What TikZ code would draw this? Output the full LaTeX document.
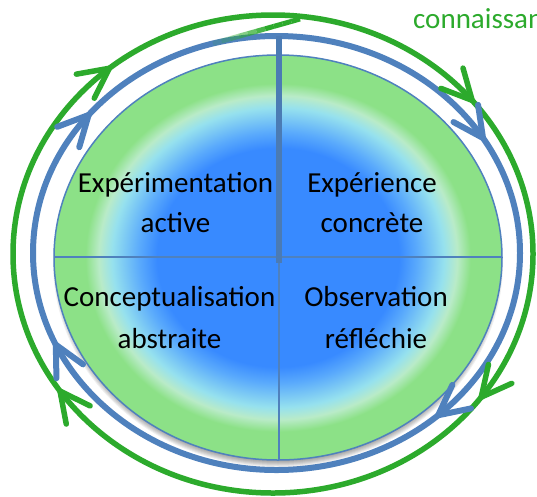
\documentclass[tikz,border=0pt]{standalone}
\usepackage{fontspec}
\setmainfont{Carlito}
\usetikzlibrary{calc}
\definecolor{ringblue}{RGB}{79,129,189}
\definecolor{ringgreen}{RGB}{44,170,44}
\definecolor{cblue}{RGB}{56,138,255}
\definecolor{cblue2}{RGB}{90,170,252}
\definecolor{ccyan}{RGB}{150,225,238}
\definecolor{cpale}{RGB}{185,235,200}
\definecolor{cgreen}{RGB}{140,225,135}
\pgfdeclareradialshading{kolbshade}{\pgfpoint{0bp}{0bp}}{color(0bp)=(cblue); color(13.5bp)=(cblue); color(15.5bp)=(cblue2); color(18.5bp)=(ccyan); color(20bp)=(cpale); color(21.5bp)=(cgreen); color(25bp)=(cgreen); color(50bp)=(cgreen)}
% chevron arrowhead on an ellipse: cx, cy, rx, ry, angle, style
\newcommand\kolbchevron[6]{%
  \pgfmathsetmacro\kcTx{#1+#3*cos(#5)}%
  \pgfmathsetmacro\kcTy{#2+#4*sin(#5)}%
  \pgfmathsetmacro\kcDx{-#3*sin(#5)}%
  \pgfmathsetmacro\kcDy{#4*cos(#5)}%
  \pgfmathsetmacro\kcN{veclen(\kcDx,\kcDy)}%
  \pgfmathsetmacro\kcUx{\kcDx/\kcN}%
  \pgfmathsetmacro\kcUy{\kcDy/\kcN}%
  \coordinate (kctip) at (\kcTx,\kcTy);
  \coordinate (kcwa) at ($(kctip)+(-30*\kcUx+15*\kcUy,-30*\kcUy-15*\kcUx)$);
  \coordinate (kcwb) at ($(kctip)+(-30*\kcUx-15*\kcUy,-30*\kcUy+15*\kcUx)$);
  \draw[#6] (kcwa) -- (kctip) -- (kcwb);
}
\begin{document}
\begin{tikzpicture}[x=1pt,y=-1pt,
  greenring/.style={draw=ringgreen,line width=5.5pt},
  bluering/.style={draw=ringblue,line width=6pt},
  greenchev/.style={draw=ringgreen,line width=5.5pt,line cap=round,line join=round},
  bluechev/.style={draw=ringblue,line width=6pt,line cap=round,line join=round},
  divider/.style={draw=ringblue,line width=1.5pt},
  lbl/.style={font=\fontsize{29}{35}\selectfont,inner sep=0pt,anchor=base,text=black}]
\useasboundingbox (0,0) rectangle (537,496);
\fill[white] (0,0) rectangle (537,496);
% outer rings
\draw[greenring] (273,254) ellipse [x radius=260, y radius=239];
\draw[bluering] (276.5,253) ellipse [x radius=243.5, y radius=217];
% shadow of the disc
\foreach \k in {0,...,6}
  \fill[black,opacity=0.06] (278,263) ellipse [x radius={225-\k}, y radius={204-\k}];
% disc
\shade[shading=kolbshade] (278,257.5) ellipse [x radius=224, y radius=202.5];
\draw[divider] (278,257.5) ellipse [x radius=224, y radius=202.5];
% dividers
\coordinate (hl) at (54,257);
\coordinate (hr) at (502,257);
\coordinate (vc) at (279,257);
\coordinate (vb) at (279,460);
\coordinate (vt) at (279,36);
\coordinate (vk) at (279,263);
\draw[divider] (hl) -- (hr);
\draw[divider] (vc) -- (vb);
\draw[draw=ringblue!95!black,line width=6.5pt] (vt) -- (vk);
% fading link from the blue ring to the green ring
\coordinate (fa) at (213,43.5);
\coordinate (fb) at (300,19);
\foreach \i in {0,...,9}{
  \pgfmathsetmacro\ta{\i/10}
  \pgfmathsetmacro\tb{(\i+1)/10}
  \pgfmathsetmacro\op{min(1,(\i+1)/7)}
  \draw[draw=ringgreen,line width=5pt,opacity=\op] ($(fa)!\ta!(fb)$) -- ($(fa)!\tb!(fb)$);
}
% arrowheads
\kolbchevron{273}{254}{260}{239}{231}{greenchev}
\kolbchevron{273}{254}{260}{239}{320}{greenchev}
\kolbchevron{273}{254}{260}{239}{36.8}{greenchev}
\kolbchevron{273}{254}{260}{239}{145}{greenchev}
\kolbchevron{276.5}{253}{243.5}{217}{219.5}{bluechev}
\kolbchevron{276.5}{253}{243.5}{217}{328}{bluechev}
\kolbchevron{276.5}{253}{243.5}{217}{48.4}{bluechev}
\kolbchevron{276.5}{253}{243.5}{217}{155}{bluechev}
% labels
\node[lbl] (ea1) at (175.5,192) {Expérimentation};
\node[lbl] (ea2) at (175.5,232) {active};
\node[lbl] (ec1) at (372,192) {Expérience};
\node[lbl] (ec2) at (372,232) {concrète};
\node[lbl] (ca1) at (169.5,306) {Conceptualisation};
\node[lbl] (ca2) at (169.5,348) {abstraite};
\node[lbl] (or1) at (376,306) {Observation};
\node[lbl] (or2) at (376,348) {réfléchie};
\begin{scope}
\clip (0,0) rectangle (537,496);
\node[lbl,anchor=base west,text=ringgreen] (kn) at (413,28) {connaissance};
\end{scope}
\end{tikzpicture}
\end{document}
